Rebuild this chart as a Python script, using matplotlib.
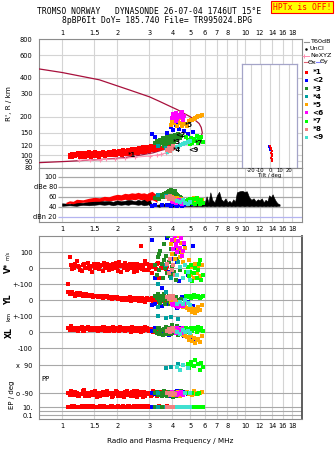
import numpy as np
import matplotlib
matplotlib.use("Agg")
import matplotlib.pyplot as plt
from matplotlib.lines import Line2D
from matplotlib.patches import Rectangle
from matplotlib.ticker import NullLocator, FixedLocator, FixedFormatter

# ---------------- data ----------------
freq_ticks = [1, 1.5, 2, 3, 4, 5, 6, 7, 8, 10, 12, 14, 16, 18]
freq_ticks_mid = [1, 1.5, 2, 3, 4, 5, 6, 7, 8, 9, 10, 12, 14, 16, 18]
range_ticks = [80, 90, 100, 120, 150, 200, 300, 400, 600, 800]
db_ticks = [20, 40, 60, 80, 100]
db_labels = ['dBn 20', '40', '60', 'dBe 80', '100']

# model trace (R vs f)
trace_f = [0.749, 1.0, 1.6, 2.35, 3.0, 3.4, 3.9, 4.3, 4.6, 5.0, 5.3, 5.6, 5.75, 5.83,
           5.75, 5.55, 5.3, 4.9, 4.6, 4.0, 3.5, 3.15, 2.6, 2.16, 1.6, 1.06, 0.749]
trace_r = [469, 440, 386, 321, 285, 263, 240, 225, 213, 200, 189, 177, 165, 150,
           141, 135, 128, 124, 121, 115, 110, 105, 100, 96, 93, 90, 88]
ne_f = [1.24, 1.42, 1.61, 1.74, 1.95, 2.21, 2.5, 3.02, 3.3, 3.47, 3.7, 3.88]
ne_r = [92, 92, 93, 93.5, 94, 95, 97, 99, 101, 102, 105, 110]
ninth_f = [3.72, 4.0, 4.3, 4.6, 4.9, 5.2, 5.43]
ninth_r = [107, 112, 118, 124, 129, 133, 136]

# red (cluster 1) echoes in the range panel
top_red_f = [1.10, 1.14, 1.18, 1.22, 1.25, 1.28, 1.31, 1.34, 1.37, 1.40,
             1.44, 1.48, 1.52, 1.56, 1.60, 1.64, 1.68, 1.72, 1.76, 1.80, 1.84, 1.88, 1.92, 1.96, 2.00,
             2.04, 2.08, 2.12, 2.16, 2.20, 2.24, 2.28, 2.32, 2.36, 2.40, 2.44, 2.48, 2.52, 2.56, 2.60,
             2.64, 2.68, 2.72, 2.76, 2.80, 2.85, 2.90, 2.95, 3.00, 3.05, 3.10,
             3.20, 3.30, 3.40, 3.50, 3.60, 3.70, 3.80, 3.90]
top_red_r1 = [98, 97, 99, 100, 98, 99, 97, 98, 100, 99, 98, 101, 99, 100, 98, 101, 100, 99, 102, 100,
              101, 103, 101, 100, 103, 102, 104, 101, 105, 103, 102, 106, 104, 103, 107, 105, 104, 108, 106, 105,
              109, 107, 106, 110, 108, 107, 111, 109, 108, 112, 110, 111, 113, 112, 115, 114, 116, 118, 117]
top_red_r2 = [101, 103, 102, 104, 103, 105, 102, 104, 103, 106, 102, 104, 106, 103, 105, 104, 106, 103, 105, 107,
              104, 106, 108, 105, 107, 109, 106, 108, 110, 107, 109, 111, 108, 110, 112, 109, 111, 113, 110, 112,
              115, 111, 113, 116, 112, 114, 117, 113, 115, 118, 116, 119, 121, 118, 124, 120, 122, 125, 127]

# amplitude panel
noise_f = [1.00, 1.10, 1.20, 1.30, 1.40, 1.50, 1.60, 1.70, 1.80, 1.90, 2.00, 2.10, 2.20, 2.30, 2.40, 2.50,
           2.60, 2.70, 2.80, 2.90, 2.95, 3.00, 3.05, 3.10, 3.20, 3.30, 3.40, 3.50, 3.60, 3.70, 3.80, 3.90,
           4.00, 4.20, 4.40, 4.60, 4.80, 5.00, 5.20, 5.40, 5.60, 5.80, 6.00, 6.15, 6.30, 6.45, 6.60, 6.80,
           7.00, 7.20, 7.40, 7.60, 7.80, 8.00, 8.20, 8.40, 8.60, 8.80, 9.00, 9.30, 9.60, 9.90, 10.2, 10.5,
           10.8, 11.1, 11.4, 11.7, 12.0, 12.3, 12.6, 12.9, 13.2, 13.5, 13.8, 14.1, 14.4, 14.7, 15.0, 15.4]
noise_top = [48, 47, 50, 49, 52, 53, 54, 52, 53, 51, 54, 52, 53, 55, 54, 52, 55, 53, 56, 62,
             68, 58, 50, 46, 47, 45, 46, 48, 47, 46, 48, 47, 46, 47, 45, 47, 48, 46, 50, 49,
             52, 58, 48, 62, 50, 70, 55, 50, 64, 71, 56, 52, 58, 50, 53, 49, 56, 51, 70, 72,
             73, 71, 72, 60, 55, 58, 52, 56, 54, 58, 50, 55, 52, 64, 60, 66, 58, 52, 48, 46]
noise_bot = [43, 44, 43, 45, 44, 45, 46, 45, 46, 44, 46, 45, 46, 45, 47, 46, 45, 46, 44, 45,
             46, 44, 42, 40, 43, 42, 41, 43, 42, 43, 42, 43, 41, 42, 43, 42, 43, 42, 43, 42,
             43, 42, 43, 42, 43, 42, 43, 42, 43, 42, 43, 42, 43, 42, 43, 42, 43, 42, 43, 42,
             43, 42, 43, 42, 43, 42, 43, 42, 43, 42, 43, 42, 43, 42, 43, 42, 43, 42, 43, 43]
red_db_f = [1.05, 1.1, 1.15, 1.2, 1.3, 1.4, 1.5, 1.6, 1.7, 1.8, 1.9, 2.0, 2.1, 2.2, 2.3, 2.4, 2.5,
            2.6, 2.7, 2.8, 2.9, 3.0, 3.1, 3.2, 3.3]
red_db_top = [50, 53, 52, 56, 55, 58, 60, 59, 62, 61, 64, 66, 65, 68, 67, 69, 68, 70, 68, 69, 67, 70, 72, 68, 65]
red_db_bot = [47, 48, 47, 49, 50, 51, 52, 52, 54, 53, 54, 55, 54, 56, 55, 56, 55, 57, 55, 56, 52, 54, 55, 53, 50]

# red (cluster 1) echoes in the lower panel, two overlapping sets
red_f = [1.08, 1.12, 1.16, 1.2, 1.24, 1.28, 1.32, 1.36, 1.4, 1.45, 1.5, 1.55, 1.6, 1.65, 1.7, 1.75,
         1.8, 1.85, 1.9, 1.95, 2.0, 2.05, 2.1, 2.15, 2.2, 2.25, 2.3, 2.35, 2.4, 2.45, 2.5, 2.55, 2.6,
         2.65, 2.7, 2.75, 2.8, 2.9, 3.0, 3.1, 3.2, 3.3, 3.4, 3.55, 3.7]
red_f2 = [1.1, 1.14, 1.18, 1.22, 1.26, 1.3, 1.34, 1.38, 1.42, 1.47, 1.52, 1.57, 1.62, 1.67, 1.72, 1.77,
          1.82, 1.87, 1.92, 1.97, 2.02, 2.07, 2.12, 2.17, 2.22, 2.27, 2.32, 2.37, 2.42, 2.47, 2.52, 2.57,
          2.62, 2.67, 2.72, 2.77, 2.85, 2.95, 3.05, 3.15, 3.25, 3.35, 3.47, 3.6, 3.75]
red_v = [-100, 20, 5, 45, 10, -15, 25, 0, 15, -20, 30, 10, -5, 20, 35, 5, -10, 15, 25, 0,
         10, 40, -25, 15, 5, 20, -5, 30, 10, 0, 25, -15, 15, 5, 140, 20, -10, 30, 5, -30, 15, 25, -60, 10, -5]
red_v2 = [70, -5, 30, 15, -10, 20, 5, 35, -5, 15, 0, 25, 15, -15, 10, 30, 20, -5, 10, 35,
          -15, 15, 20, 0, 35, -10, 15, 5, 25, -20, 10, 30, 0, 20, -5, 15, 45, -10, 20, 10, -5, 35, 0, 20, 15]
red_yl = [50, 45, 40, 48, 35, 42, 30, 38, 28, 35, 25, 30, 22, 28, 20, 25, 15, 22, 18, 12,
          20, 10, 16, 8, 14, 5, 12, 18, 6, 10, 15, 3, 12, 8, -5, 10, 5, 15, 0, 12, 8, -10, 5, 15, 0]
red_yl2 = [38, 52, 30, 35, 44, 28, 36, 25, 33, 22, 30, 18, 26, 15, 24, 18, 22, 10, 14, 20,
           8, 15, 5, 12, 2, 10, 6, -2, 14, 4, 0, 10, -4, 6, 12, 2, -8, 6, 10, -2, 4, 12, -6, 2, 8]
red_xl = [25, 40, 15, 30, 20, 35, 10, 25, 18, 30, 12, 22, 28, 15, 32, 20, 10, 25, 35, 15,
          22, 8, 30, 18, 25, 12, 28, 20, 35, 15, 10, 25, 18, 30, 5, 20, 15, 28, 10, 22, 18, 5, 25, 12, 20]
red_xl2 = [15, 20, 30, 10, 25, 8, 20, 35, 12, 18, 28, 10, 20, 35, 8, 25, 30, 15, 10, 28,
           15, 32, 12, 25, 8, 30, 15, 5, 20, 28, 22, 10, 30, 12, 25, 8, 35, 15, 20, 5, 30, 12, 8, 22, 10]
red_pp = [-90, -75, -100, -85, -110, -95, -70, -90, -105, -80, -95, -115, -85, -90, -100, -75, -95, -88,
          -105, -92, -80, -98, -110, -86, -94, -72, -100, -90, -84, -108, -96, -78, -92, -102, -88, -115,
          -82, -95, -90, -100, -85, -110, -92, -98, -80]
red_pp2 = [-100, -88, -80, -105, -92, -78, -110, -96, -85, -100, -72, -90, -108, -82, -95, -102, -86,
           -112, -90, -78, -104, -88, -95, -115, -80, -98, -86, -106, -92, -76, -100, -112, -84, -90, -98,
           -82, -105, -88, -110, -78, -96, -90, -84, -102, -94]
red_ep = [12, 10, 15, 11, 9, 14, 10, 12, 16, 11, 10, 13, 9, 12, 15, 10, 11, 14, 12, 9, 13, 11, 10,
          16, 12, 10, 14, 11, 9, 13, 12, 10, 15, 11, 12, 9, 14, 10, 13, 11, 10, 12, 15, 11, 10]
red_ep2 = [10, 14, 11, 9, 13, 12, 15, 10, 11, 14, 12, 9, 16, 11, 10, 13, 12, 15, 10, 11, 14, 9, 12,
           13, 10, 11, 15, 12, 10, 14, 11, 13, 9, 12, 16, 10, 11, 14, 12, 10, 13, 11, 9, 12, 14]

# other clusters (2..9): per-field lists, one sub-list per cluster
cluster_ids = [2, 3, 4, 5, 6, 7, 8, 9]
ech_f = [
    [3.08, 3.2, 3.5, 3.75, 3.95, 4.05, 4.2, 4.35, 4.5, 4.65, 4.9, 5.2, 4.25, 3.85],
    [3.22, 3.28, 3.33, 3.38, 3.44, 3.5, 3.55, 3.6, 3.65, 3.7, 3.75, 3.8, 3.85, 3.9, 3.95, 4.0, 4.05,
     4.1, 4.15, 4.2, 4.25, 4.3, 4.38, 4.45, 3.62, 3.98, 3.4],
    [3.35, 3.68, 3.95, 4.3],
    [3.92, 4.0, 4.08, 4.15, 4.22, 4.3, 4.38, 4.45, 4.52, 4.6, 4.7, 4.8, 4.95, 5.05, 5.15, 5.25, 5.35,
     5.45, 5.55, 5.68, 5.8],
    [3.98, 4.05, 4.12, 4.18, 4.25, 4.32, 4.4, 4.48, 4.55, 4.62, 4.2, 4.5],
    [4.75, 4.85, 4.95, 5.05, 5.15, 5.25, 5.35, 5.45, 5.55, 5.65, 5.75, 5.85, 5.6, 5.0],
    [3.75, 3.82, 3.9, 3.98, 4.05, 4.15],
    [4.25, 4.4, 4.55, 4.7, 4.85, 5.0],
]
ech_r = [
    [146, 140, 132, 150, 165, 158, 172, 160, 175, 155, 148, 152, 185, 138],
    [125, 130, 121, 128, 133, 124, 136, 127, 131, 122, 139, 129, 134, 125, 141, 131, 137, 128, 143, 133,
     139, 146, 136, 141, 119, 117, 120],
    [118, 115, 113, 116],
    [172, 185, 178, 192, 170, 188, 180, 195, 168, 182, 175, 170, 184, 188, 190, 193, 196, 199, 201, 204, 206],
    [195, 208, 200, 214, 192, 205, 198, 210, 190, 202, 186, 219],
    [140, 132, 128, 137, 125, 134, 129, 141, 126, 131, 138, 127, 135, 122],
    [110, 115, 108, 112, 118, 114],
    [117, 121, 123, 126, 128, 130],
]
ech_db = [
    [42, 44, 45, 44, 43, 46, 45, 44, 42, 44, 47, 46, 43, 44],
    [58, 60, 62, 57, 61, 64, 60, 66, 63, 68, 65, 70, 72, 68, 74, 71, 69, 66, 73, 67, 64, 62, 60, 58, 62, 65, 59],
    [65, 62, 60, 58],
    [58, 60, 57, 55, 59, 56, 54, 57, 52, 55, 50, 53, 51, 55, 52, 58, 54, 50, 56, 52, 55],
    [52, 50, 54, 49, 53, 51, 55, 48, 52, 50, 54, 47],
    [52, 55, 50, 48, 53, 56, 46, 58, 51, 47, 54, 49, 52, 57],
    [60, 57, 62, 56, 59, 55],
    [52, 50, 54, 48, 46, 50],
]
ech_v = [
    [180, -60, -120, 190, 60, -30, 120, -80, 90, 150, -40, 140, 40, -20],
    [20, -40, 70, -10, 110, 30, -60, 150, 0, 80, -30, 200, 40, -50, 120, 10, 170, -20, 90, -70, 60, 130,
     -10, 100, 50, -40, 90],
    [-100, 20, -60, 40],
    [150, 90, 180, 60, 200, 120, 70, 160, 100, 40, 130, -20, 50, -40, 10, -60, 30, -30, 0, -50, 20],
    [180, 120, 200, 150, 100, 170, 130, 190, 110, 160, 140, 80],
    [-20, 10, -50, 20, -80, -30, 0, -60, -10, 50, -70, -40, 30, -20],
    [30, -30, 60, -10, 20, -40],
    [-40, 10, -60, 20, -20, -70],
]
ech_yl = [
    [-30, -25, -35, -20, 10, -30, 5, -15, 20, -40, -10, -35, -50, 5],
    [30, 15, 40, 5, -15, 25, 0, 35, -20, 10, 20, -5, 30, -25, 15, -10, 25, 0, -30, 20, -15, 5, -20, 10, 40, -5, 20],
    [-40, 50, 0, -30],
    [-10, -20, -15, -25, -10, -30, -20, -35, -25, -40, -20, -50, -60, -45, -70, -55, -80, -65, -40, -60, -30],
    [-20, -30, -25, -35, -20, -40, -25, -30, -35, -20, -28, -38],
    [25, 30, 20, 15, 28, 33, 18, 24, 30, 14, 22, 28, 18, 26],
    [20, 10, 30, 15, 25, 5],
    [-20, -10, -25, 0, -15, -30],
]
ech_xl = [
    [10, 25, 5, 15, -10, 20, 0, 30, 0, -20, 10, -50, 12, -15],
    [10, -5, 25, 30, 0, 15, -15, 20, 5, 35, -10, 10, 25, 0, -12, 20, 5, 30, -5, 15, 40, -15, 10, -8, 20, 45, -10],
    [100, 90, 95, 85],
    [20, 30, 10, 25, 0, 15, -10, 20, 5, -15, -25, -30, -45, -20, -55, -35, -65, -50, -40, -60, -25],
    [30, 10, 20, -5, 25, 5, 15, 0, 30, 10, 18, -2],
    [30, 15, 5, 25, 10, 30, 20, 5, 35, 15, 25, 8, 12, 22],
    [10, 20, 5, 15, 25, 10],
    [5, -10, 15, 0, 10, -5],
]
ech_pp = [
    [-90, -95, -85, -100, -80, -92, -88, -105, -90, -84, -96, -90, -78, -110],
    [-90, -80, -100, -95, -85, -110, -90, -75, -98, -88, -105, -92, -80, -100, -86, -95, -115, -90, -82,
     -97, -108, -88, -94, -78, -102, -84, -92],
    [-90, 70, 75, 95],
    [-90, -85, -100, -88, -95, -80, -105, -92, -86, -98, -90, -82, -96, -88, -100, -78, -92, -86, -95, -90, -84],
    [-80, -95, -90, -85, -100, -88, -92, -82, -98, -90, -94, -86],
    [-90, 100, 70, 110, -88, 85, 120, -95, 95, 60, 105, 80, -90, 90],
    [-90, -85, -100, -92, -88, -95],
    [80, 60, 90, -90, 70, -88],
]
ech_ep = [
    [10, 12, 10, 11, 10, 13, 10, 12, 10, 11, 10, 12, 10, 10],
    [10, 11, 10, 12, 10, 11, 10, 13, 10, 10, 12, 10, 11, 10, 10, 12, 10, 11, 10, 10, 12, 10, 11, 10, 10, 10, 10],
    [10, 10, 10, 10],
    [10, 11, 10, 10, 12, 10, 10, 11, 10, 10, 12, 10, 10, 11, 10, 10, 12, 10, 10, 11, 10],
    [10, 11, 10, 10, 12, 10, 10, 11, 10, 10, 10, 10],
    [10, 10, 11, 10, 10, 12, 10, 10, 10, 11, 10, 10, 10, 10],
    [10, 10, 10, 10, 10, 10],
    [10, 10, 10, 10, 10, 10],
]

# labels of the clusters in the range panel
lab_text = ['*1', '<2', '*3', '*4', '*5', '*7', '<9']
lab_f = [2.3, 4.15, 4.05, 4.0, 4.7, 5.3, 4.9]
lab_r = [101, 144, 127, 110, 172, 126, 110]

# tilt inset
tilt_red_r = [117, 114, 111, 108, 105, 102, 99, 96, 93, 90]
tilt_red_deg = [0.5, 1.5, 1, 2, 1.5, 2.5, 2, 1.5, 2.5, 2]
tilt_blue_r = [118, 115, 112, 109]
tilt_blue_deg = [-1.5, -1, -0.5, 0]
tilt_ticks = [-20, -10, 0, 10, 20]

cl_colors = {1: '#ff0000', 2: '#0000ff', 3: '#228b22', 4: '#00a0a0', 5: '#ffa500',
             6: '#ff00ff', 7: '#00ff00', 8: '#f08080', 9: '#40e0d0'}
cl_symbols = {1: '*1', 2: '<2', 3: '*3', 4: '*4', 5: '*5', 6: '<6', 7: '*7', 8: '*8', 9: '<9'}

# ---------------- layout helpers ----------------
W, H = 335, 451
fig = plt.figure(figsize=(W / 100, H / 100), dpi=100)
plt.rcParams['font.family'] = ['DejaVu Sans']


def rect(l, t, r, b):
    return [l / W, 1 - b / H, (r - l) / W, (b - t) / H]


def fx(x):
    return x / W


def fy(y):
    return 1 - y / H


GRID = '#d4d4d4'
HGRID = '#a8a8a8'
FRAME = '#8c8c8c'
TFS = 4.8
MS = 5.5


def freq_axis(ax, ticks, where):
    ax.set_xscale('log')
    ax.set_xlim(0.749, 20.4)
    ax.xaxis.set_minor_locator(NullLocator())
    ax.xaxis.set_major_locator(FixedLocator(ticks))
    ax.xaxis.set_major_formatter(FixedFormatter([('%g' % t) for t in ticks]))
    for f in freq_ticks_mid:
        ax.axvline(f, color=GRID, lw=0.8, zorder=0)
    if where == 'top':
        ax.xaxis.tick_top()
        ax.tick_params(axis='x', length=0, pad=2.2, labelsize=TFS)
    elif where == 'bottom':
        ax.tick_params(axis='x', length=0, pad=3.0, labelsize=TFS)
    else:
        ax.tick_params(axis='x', length=0, labelbottom=False)
    for s in ax.spines.values():
        s.set_color(FRAME)
        s.set_linewidth(0.8)


# ---------------- titles ----------------
mono = 'DejaVu Sans Mono'
fig.text(fx(149), fy(12), 'TROMSO NORWAY   DYNASONDE 26-07-04 1746UT 15\u00b0E',
         family=mono, fontsize=5.8, ha='center', va='center')
fig.text(fx(157.5), fy(20.5), '8pBP6It DoY= 185.740 File= TR995024.BPG',
         family=mono, fontsize=5.8, ha='center', va='center')
fig.add_artist(Rectangle((fx(271), fy(12.8)), fx(333) - fx(271), fy(1.5) - fy(12.8),
                         transform=fig.transFigure, facecolor='#ffff00', edgecolor='#ff0000', lw=0.8))
fig.text(fx(302), fy(7.3), 'HPTx is OFF!', family=mono, fontsize=5.8, color='#ff0000',
         ha='center', va='center')

# ---------------- range panel ----------------
ax1 = fig.add_axes(rect(39, 39, 302, 168))
freq_axis(ax1, freq_ticks, 'top')
ax1.set_yscale('log')
ax1.set_ylim(80, 800)
ax1.yaxis.set_minor_locator(NullLocator())
ax1.yaxis.set_major_locator(FixedLocator(range_ticks))
ax1.yaxis.set_major_formatter(FixedFormatter([str(r) for r in range_ticks]))
ax1.tick_params(axis='y', length=0, pad=4.5, labelsize=TFS)
for r in range_ticks:
    ax1.axhline(r, color=GRID, lw=0.8, zorder=0)
ax1.set_ylabel("R', R / km", fontsize=5.2, labelpad=6)

ax1.plot(trace_f, trace_r, color='#a8103c', lw=0.9, zorder=3)
ax1.plot(ne_f, ne_r, color='#ff8fb0', lw=0.7, marker='+', ms=3, mew=0.8, zorder=4)
ax1.plot(ninth_f, ninth_r, color=cl_colors[9], lw=1.0, marker='s', ms=1.5, zorder=4)
ax1.scatter(top_red_f, top_red_r1, s=MS, marker='s', color=cl_colors[1], lw=0, zorder=5)
ax1.scatter(top_red_f, top_red_r2, s=MS, marker='s', color=cl_colors[1], lw=0, zorder=5)
for i, c in enumerate(cluster_ids):
    n = min(len(ech_f[i]), len(ech_r[i]))
    ax1.scatter(ech_f[i][:n], ech_r[i][:n], s=MS + 1.5, marker='s', color=cl_colors[c], lw=0, zorder=6)
for t, f, r in zip(lab_text, lab_f, lab_r):
    ax1.text(f, r, t, fontsize=4.8, fontweight='bold', color='black', ha='left', va='center', zorder=8)

# tilt inset
axt = fig.add_axes(rect(241.7, 64.3, 297.3, 167.7))
axt.set_yscale('log')
axt.set_ylim(80, 510)
axt.set_xlim(-30, 29)
axt.set_xticks([])
axt.set_yticks([])
axt.yaxis.set_minor_locator(NullLocator())
for t in tilt_ticks:
    axt.axvline(t, color=GRID, lw=0.8, zorder=0)
for s in axt.spines.values():
    s.set_color('#a4a4c8')
    s.set_linewidth(0.9)
axt.scatter(tilt_blue_deg, tilt_blue_r, s=3, marker='s', color=cl_colors[2], lw=0, zorder=3)
axt.scatter(tilt_red_deg, tilt_red_r, s=3, marker='s', color=cl_colors[1], lw=0, zorder=4)
for t in tilt_ticks:
    x_px = 270 + t * 0.95
    fig.text(fx(x_px), fy(170.5), '%d' % t, fontsize=3.8, ha='center', va='center', zorder=10)
fig.text(fx(270), fy(176), 'Tilt / deg', fontsize=3.8, ha='center', va='center', zorder=10)

# ---------------- legend (right side) ----------------
lf = dict(fontsize=4.6, va='center', ha='left')
fig.add_artist(Line2D([fx(303.5), fx(309)], [fy(41.7), fy(41.7)], color='#909090', lw=0.8))
fig.text(fx(310), fy(41.7), 'T60dB', **lf)
fig.add_artist(Line2D([fx(306)], [fy(49)], marker='o', ms=0.8, color='black', lw=0))
fig.text(fx(310), fy(49), 'UnCl', **lf)
fig.add_artist(Line2D([fx(303.5), fx(309)], [fy(55.5), fy(55.5)], color='#ff8fb0', lw=0.7,
                      marker='+', ms=3, markevery=[0], mew=0.7))
fig.text(fx(310), fy(55.5), 'NeXYZ', **lf)
fig.add_artist(Line2D([fx(303.5), fx(307.5)], [fy(62), fy(62)], color='#e06070', lw=0.8))
fig.text(fx(307.5), fy(62), '\u0398x', **lf)
fig.add_artist(Line2D([fx(316), fx(320)], [fy(62), fy(62)], color='#8080ff', lw=0.8))
fig.text(fx(320), fy(62), '\u0398y', **lf)
for k in range(1, 10):
    yk = 72.3 + (k - 1) * 8.12
    fig.add_artist(Rectangle((fx(305.3), fy(yk + 1.5)), fx(3), 3 / H, transform=fig.transFigure,
                             facecolor=cl_colors[k], edgecolor='none'))
    fig.text(fx(312.5), fy(yk), cl_symbols[k], fontsize=5.2, fontweight='bold', va='center', ha='left')

# ---------------- amplitude panel ----------------
ax2 = fig.add_axes(rect(39, 168, 302, 222))
freq_axis(ax2, freq_ticks_mid, 'bottom')
ax2.set_ylim(10.6, 118.6)
ax2.set_yticks([])
for d, lab in zip(db_ticks, db_labels):
    col = '#b4b4f0' if d == 20 else HGRID
    ax2.hlines(d, 0.95, 20.4, color=col, lw=0.9, zorder=1)
    ax2.text(0.94, d, lab, fontsize=TFS, ha='right', va='center')
ax2.fill_between(noise_f, noise_bot, noise_top, color='black', lw=0.4, edgecolor='black', zorder=3)
ax2.fill_between(red_db_f, red_db_bot, red_db_top, color=cl_colors[1], lw=0, zorder=4)
for i, c in enumerate(cluster_ids):
    n = min(len(ech_f[i]), len(ech_db[i]))
    ax2.scatter(ech_f[i][:n], ech_db[i][:n], s=MS + 2, marker='s', color=cl_colors[c], lw=0, zorder=5)

# ---------------- parameter panel ----------------
ax3 = fig.add_axes(rect(39, 236, 302, 419))
freq_axis(ax3, freq_ticks, 'bottom')
ax3.set_ylim(419, 236)


def y_v(v):
    return 268.3 - 0.16 * np.asarray(v, dtype=float)


def y_yl(v):
    return 300.3 - 0.16 * np.asarray(v, dtype=float)


def y_xl(v):
    return 332.3 - 0.16 * np.asarray(v, dtype=float)


def y_pp(v):
    return 379.2 - 0.157 * np.asarray(v, dtype=float)


def y_ep(v):
    return 411.15 - 4.15 * np.log10(np.asarray(v, dtype=float))


ytick_pos = [y_v(100), y_v(0), y_yl(100), y_yl(0), y_xl(100), y_xl(0), y_xl(-100),
             y_pp(90), y_pp(-90), y_ep(10), y_ep(1), y_ep(0.1)]
ytick_lab = ['100', '0', '+-100', '0', '+-100', '0', '-100', 'x  90', 'o -90', '10.', '', '0.1']
ax3.yaxis.set_major_locator(FixedLocator([float(p) for p in ytick_pos]))
ax3.yaxis.set_major_formatter(FixedFormatter(ytick_lab))
ax3.tick_params(axis='y', length=0, pad=4.5, labelsize=TFS)
for p in ytick_pos:
    ax3.axhline(float(p), color=HGRID, lw=0.8, zorder=1)
ax3.spines['right'].set_color('#505050')
ax3.spines['right'].set_linewidth(1.3)

for ff, vv, yl, xl, pp, ep in [(red_f, red_v, red_yl, red_xl, red_pp, red_ep),
                               (red_f2, red_v2, red_yl2, red_xl2, red_pp2, red_ep2)]:
    n = min(len(ff), len(vv), len(yl), len(xl), len(pp), len(ep))
    for fun, vals in [(y_v, vv), (y_yl, yl), (y_xl, xl), (y_pp, pp), (y_ep, ep)]:
        ax3.scatter(ff[:n], fun(vals[:n]), s=MS, marker='s', color=cl_colors[1], lw=0, zorder=4)

for i, c in enumerate(cluster_ids):
    for fun, vals in [(y_v, ech_v[i]), (y_yl, ech_yl[i]), (y_xl, ech_xl[i]),
                      (y_pp, ech_pp[i]), (y_ep, ech_ep[i])]:
        n = min(len(ech_f[i]), len(vals))
        ax3.scatter(ech_f[i][:n], fun(vals[:n]), s=MS + 1.5, marker='s', color=cl_colors[c],
                    lw=0, zorder=5, clip_on=True)

ax3.set_xlabel('Radio and Plasma Frequency / MHz', fontsize=5.2, labelpad=6)

fig.text(fx(8), fy(268), 'V*', fontsize=5.6, fontweight='bold', rotation=90, ha='center', va='center')
fig.text(fx(7), fy(255), 'm/s', fontsize=3.6, rotation=90, ha='center', va='center')
fig.text(fx(9), fy(300), 'YL', fontsize=5.6, fontweight='bold', rotation=90, ha='center', va='center')
fig.text(fx(9), fy(316.5), 'km', fontsize=4.2, rotation=90, ha='center', va='center')
fig.text(fx(9), fy(333), 'XL', fontsize=5.6, fontweight='bold', rotation=90, ha='center', va='center')
fig.text(fx(46), fy(379), 'PP', fontsize=5.0, ha='center', va='center')
fig.text(fx(12), fy(395), 'EP / deg', fontsize=5.0, rotation=90, ha='center', va='center')

fig.savefig('out.png', dpi=100)
